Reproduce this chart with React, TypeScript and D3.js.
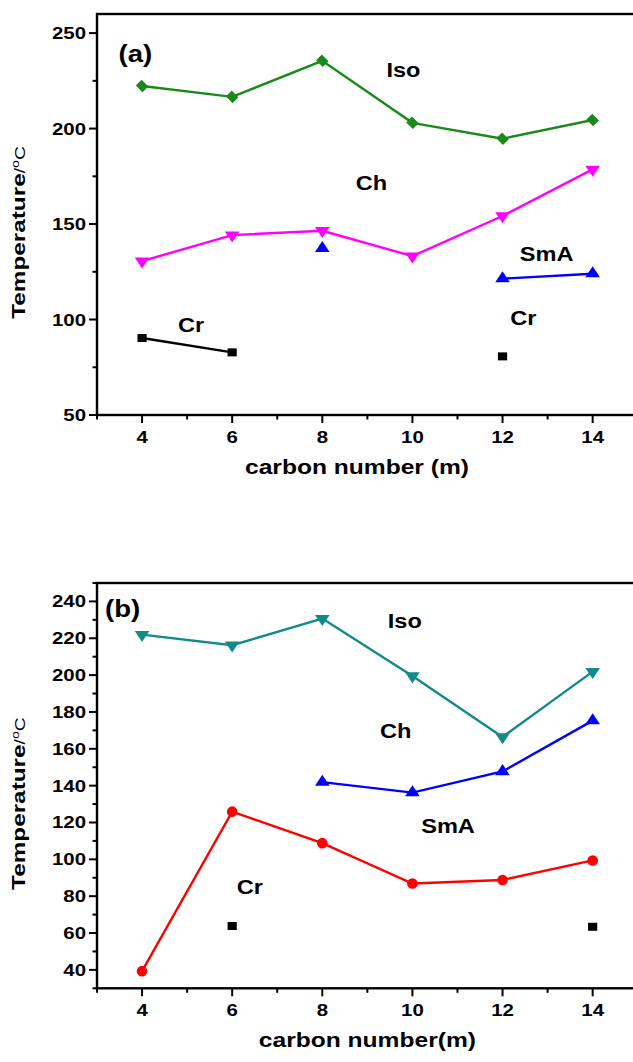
import React from 'react';
import * as d3 from 'd3';

// carbon number m
const carbon = [4, 6, 8, 10, 12, 14];

// panel (a) transition temperatures, null = no point
const aIso = [222.3, 216.6, 235.5, 203, 194.7, 204.5];
const aCh = [130.6, 144.2, 146.5, 133.2, 154.2, 178.6];
const aSmA = [null, null, 137.3, null, 121.4, 124];
const aCr = [90.3, 82.8, null, null, 80.7, null];

// panel (b)
const bIso = [222, 216.2, 230.7, 199.5, 166.4, 201.9];
const bCh = [null, null, 141.9, 136.2, 147.7, 175.3];
const bSmA = [39.3, 125.9, 108.8, 86.9, 88.8, 99.4];
const bCr = [null, 63.8, null, null, null, 63.4];

const xTicks = [4, 6, 8, 10, 12, 14];
const xMinor = [3, 5, 7, 9, 11, 13, 15];
const aTicks = [50, 100, 150, 200, 250];
const aMinor = [75, 125, 175, 225];
const bTicks = [40, 60, 80, 100, 120, 140, 160, 180, 200, 220, 240];
const bMinor = [30, 50, 70, 90, 110, 130, 150, 170, 190, 210, 230, 250];

// phase labels [text, carbon, temperature]
const aLabels: [string, number, number][] = [
  ['Iso', 9.8, 231],
  ['Ch', 9.09, 171.5],
  ['SmA', 12.98, 134.8],
  ['Cr', 5.09, 97.6],
  ['Cr', 12.46, 101.3],
];
const bLabels: [string, number, number][] = [
  ['Iso', 9.83, 229.8],
  ['Ch', 9.63, 170.2],
  ['SmA', 10.79, 118.4],
  ['Cr', 6.39, 85.4],
];

const FONT = '"Liberation Sans", Arial, sans-serif';
const SX = 1.2; // the source art is stretched sideways

const x = d3.scaleLinear().domain([3, 15]).range([97, 97 + 12 * 45.06]);

type Val = number | null;

const Txt = ({ x, y, size, weight = 'bold', anchor = 'middle', sx = SX, rot = 0, children }: any) => (
  <text
    transform={`translate(${x},${y}) rotate(${rot}) scale(${sx},1)`}
    fontFamily={FONT}
    fontSize={size}
    fontWeight={weight}
    textAnchor={anchor}
    fill="#000"
  >
    {children}
  </text>
);

const Marker = ({ kind, cx, cy, color }: { kind: string; cx: number; cy: number; color: string }) => {
  if (kind === 'circle') return <circle cx={cx} cy={cy} r={5.3} fill={color} />;
  let path = '';
  let rot = 0;
  if (kind === 'diamond') { path = d3.symbol().type(d3.symbolSquare).size(68)()!; rot = 45; }
  if (kind === 'square') path = d3.symbol().type(d3.symbolSquare).size(64)()!;
  if (kind === 'up') path = d3.symbol().type(d3.symbolTriangle).size(70)()!;
  if (kind === 'down') { path = d3.symbol().type(d3.symbolTriangle).size(70)()!; rot = 180; }
  return <path d={path} fill={color} transform={`translate(${cx},${cy}) rotate(${rot}) scale(1.15,1)`} />;
};

const Series = ({ vals, y, color, kind }: { vals: Val[]; y: any; color: string; kind: string }) => {
  const pts = carbon.map((c, i) => [c, vals[i]] as [number, Val]);
  const line = d3.line<[number, Val]>()
    .defined(d => d[1] != null)
    .x(d => x(d[0]))
    .y(d => y(d[1] as number));
  return (
    <g>
      <path d={line(pts) || ''} fill="none" stroke={color} strokeWidth={2.4} />
      {pts.filter(d => d[1] != null).map((d, i) => (
        <Marker key={i} kind={kind} cx={x(d[0])} cy={y(d[1] as number)} color={color} />
      ))}
    </g>
  );
};

const Panel = ({ top, bottom, domain, ticks, minor, tag, labels, xTitle, xTitleAt, titleOffset, children }: any) => {
  const y = d3.scaleLinear().domain(domain).range([bottom, top]);
  const x0 = x(3);
  const x1 = x(15);
  const midY = (top + bottom) / 2 + titleOffset;
  return (
    <g>
      {/* frame */}
      <rect x={x0} y={top} width={x1 - x0} height={bottom - top} fill="none" stroke="#000" strokeWidth={2.4} />
      {/* y ticks */}
      {ticks.map((t: number) => (
        <g key={'y' + t}>
          <line x1={x0 - 8} x2={x0} y1={y(t)} y2={y(t)} stroke="#000" strokeWidth={2} />
          <Txt x={x0 - 11} y={y(t) + 6} size={17} anchor="end" sx={1.2}>{t}</Txt>
        </g>
      ))}
      {minor.map((t: number) => (
        <line key={'ym' + t} x1={x0 - 4.5} x2={x0} y1={y(t)} y2={y(t)} stroke="#000" strokeWidth={2} />
      ))}
      {/* x ticks */}
      {xTicks.map(t => (
        <g key={'x' + t}>
          <line x1={x(t)} x2={x(t)} y1={bottom} y2={bottom + 8} stroke="#000" strokeWidth={2} />
          <Txt x={x(t)} y={bottom + 28} size={17} sx={1.2}>{t}</Txt>
        </g>
      ))}
      {xMinor.map(t => (
        <line key={'xm' + t} x1={x(t)} x2={x(t)} y1={bottom} y2={bottom + 4.5} stroke="#000" strokeWidth={2} />
      ))}
      {/* axis titles */}
      <Txt x={x(xTitleAt)} y={bottom + 59} size={20.5}>{xTitle}</Txt>
      <text
        transform={`translate(25,${midY}) rotate(-90) scale(1.28,1)`}
        fontFamily={FONT}
        textAnchor="middle"
        fill="#000"
      >
        <tspan fontSize={19} fontWeight="bold">Temperature</tspan>
        <tspan fontSize={15} fontWeight="normal">/</tspan>
        <tspan fontSize={11} fontWeight="normal" dy={-6}>o</tspan>
        <tspan fontSize={15} fontWeight="normal" dy={6}>C</tspan>
      </text>
      {children(y)}
      {/* phase labels */}
      <Txt x={x(tag[1])} y={y(tag[2]) + 9} size={24} sx={1.15}>{tag[0]}</Txt>
      {labels.map((l: [string, number, number], i: number) => (
        <Txt key={i} x={x(l[1])} y={y(l[2]) + 7.5} size={20.5} sx={1.15}>{l[0]}</Txt>
      ))}
    </g>
  );
};

export default function App() {
  return (
    <div style={{ position: 'absolute', left: 0, top: 0, width: 633, height: 1062, background: '#fff', overflow: 'hidden' }}>
      <svg width={633} height={1062} style={{ display: 'block' }}>
        <rect width={633} height={1062} fill="#fff" />
        <Panel
          top={14}
          bottom={415}
          domain={[50, 260]}
          ticks={aTicks}
          minor={aMinor}
          tag={['(a)', 3.85, 239.5]}
          labels={aLabels}
          xTitle="carbon number (m)"
          xTitleAt={8.77}
          titleOffset={18}
        >
          {(y: any) => (
            <g>
              <Series vals={aIso} y={y} color="#1a8a1a" kind="diamond" />
              <Series vals={aCh} y={y} color="#ff00ff" kind="down" />
              <Series vals={aSmA} y={y} color="#0000ff" kind="up" />
              <Series vals={aCr} y={y} color="#000000" kind="square" />
            </g>
          )}
        </Panel>
        <Panel
          top={583}
          bottom={988.3}
          domain={[30, 250]}
          ticks={bTicks}
          minor={bMinor}
          tag={['(b)', 3.57, 236.2]}
          labels={bLabels}
          xTitle="carbon number(m)"
          xTitleAt={9.0}
          titleOffset={18}
        >
          {(y: any) => (
            <g>
              <Series vals={bIso} y={y} color="#138a8a" kind="down" />
              <Series vals={bCh} y={y} color="#0000ff" kind="up" />
              <Series vals={bSmA} y={y} color="#ff0000" kind="circle" />
              <Series vals={bCr} y={y} color="#000000" kind="square" />
            </g>
          )}
        </Panel>
      </svg>
    </div>
  );
}
